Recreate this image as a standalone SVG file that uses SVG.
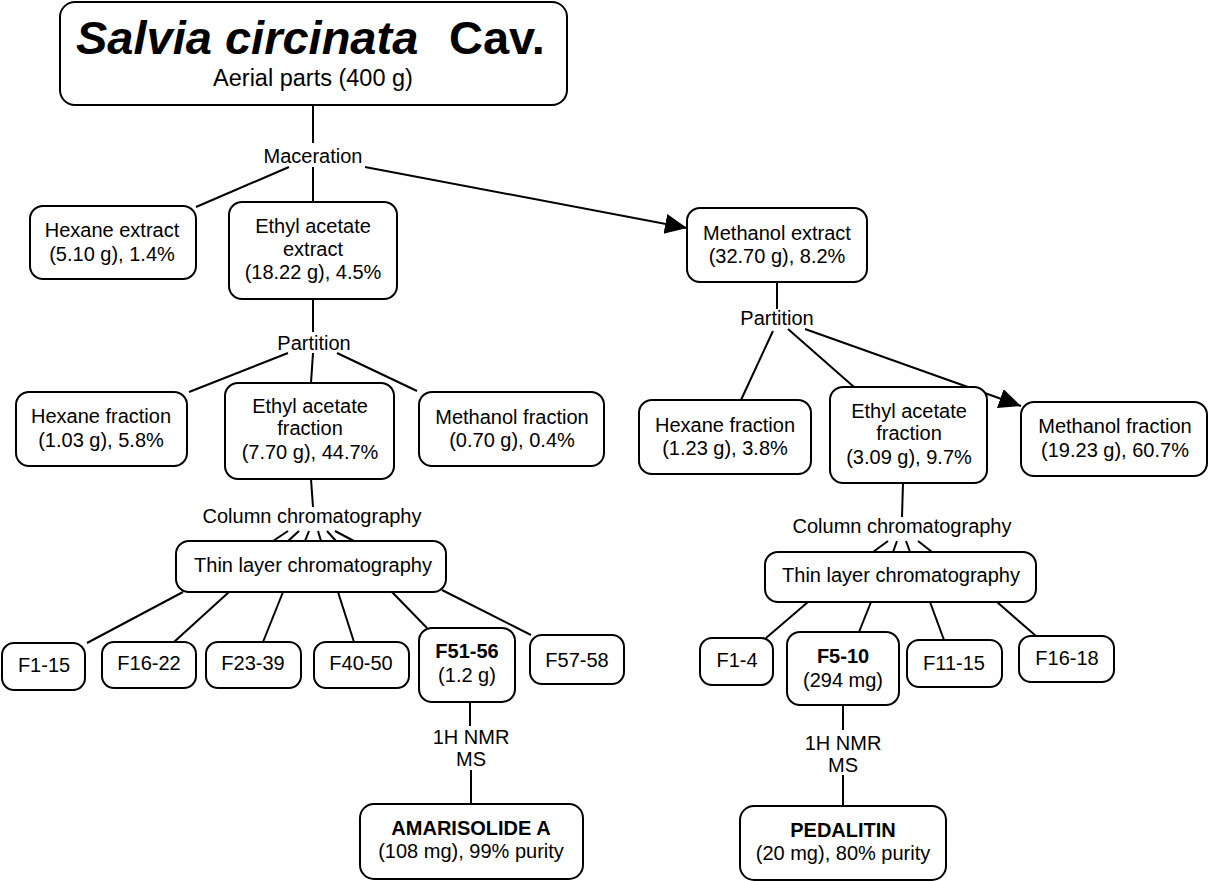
<svg xmlns="http://www.w3.org/2000/svg" width="1211" height="881" viewBox="0 0 1211 881">
<defs>
<style>
.n{fill:#fff;stroke:#000;stroke-width:2}
.t{font-family:"Liberation Sans",Arial,sans-serif;font-size:20px;fill:#000;text-anchor:middle}
.b{font-weight:bold}
.c line{stroke:#000;stroke-width:2}
</style>
<marker id="ah" markerUnits="userSpaceOnUse" markerWidth="24" markerHeight="22" refX="22" refY="10" orient="auto" viewBox="0 0 24 22">
<path d="M0,0 L22,10 L0,20 z" fill="#000"/>
</marker>
</defs>
<rect width="1211" height="881" fill="#fff"/>
<g id="connectors" class="c">
<line x1="313" y1="105" x2="313" y2="143"/>
<line x1="313" y1="167" x2="313" y2="202"/>
<line x1="289" y1="167" x2="196" y2="207"/>
<line x1="365" y1="167" x2="687" y2="228" marker-end="url(#ah)"/>
<line x1="313" y1="299" x2="313" y2="332"/>
<line x1="288" y1="353" x2="189" y2="392"/>
<line x1="313" y1="353" x2="311" y2="383"/>
<line x1="337" y1="353" x2="417" y2="391"/>
<line x1="311" y1="479" x2="313" y2="507"/>
<line x1="288" y1="531" x2="273" y2="541"/>
<line x1="299" y1="531" x2="288" y2="541"/>
<line x1="309" y1="531" x2="305" y2="541"/>
<line x1="318" y1="531" x2="321" y2="541"/>
<line x1="327" y1="531" x2="336" y2="541"/>
<line x1="335" y1="531" x2="354" y2="541"/>
<line x1="183" y1="592" x2="87" y2="643"/>
<line x1="229" y1="592" x2="174" y2="642"/>
<line x1="283" y1="592" x2="263" y2="642"/>
<line x1="338" y1="592" x2="354" y2="642"/>
<line x1="392" y1="592" x2="427" y2="628"/>
<line x1="442" y1="590" x2="531" y2="635"/>
<line x1="470" y1="702" x2="470" y2="726"/>
<line x1="471" y1="770" x2="471" y2="804"/>
<line x1="777" y1="282" x2="777" y2="309"/>
<line x1="773" y1="331" x2="741" y2="400"/>
<line x1="788" y1="329" x2="854" y2="387"/>
<line x1="805" y1="329" x2="1021" y2="406" marker-end="url(#ah)"/>
<line x1="903" y1="483" x2="902" y2="517"/>
<line x1="888" y1="541" x2="873" y2="552"/>
<line x1="897" y1="541" x2="893" y2="552"/>
<line x1="906" y1="541" x2="910" y2="552"/>
<line x1="918" y1="541" x2="932" y2="552"/>
<line x1="808" y1="602" x2="766" y2="638"/>
<line x1="871" y1="602" x2="859" y2="632"/>
<line x1="930" y1="602" x2="944" y2="640"/>
<line x1="997" y1="602" x2="1036" y2="636"/>
<line x1="843" y1="705" x2="843" y2="730"/>
<line x1="843" y1="775" x2="843" y2="806"/>
</g>
<g id="plant">
<rect class="n" x="60" y="2" width="507" height="103" rx="15"/>
<text class="t b" y="54" style="font-size:47px;text-anchor:start"><tspan x="76" font-style="italic">Salvia circinata</tspan><tspan x="449">Cav.</tspan></text>
<text class="t" x="313" y="86" style="font-size:23.5px">Aerial parts (400 g)</text>
</g>
<g id="maceration"><text class="t" x="313" y="163">Maceration</text></g>
<g id="hexane-extract">
<rect class="n" x="30" y="206" width="166" height="73" rx="13"/>
<text class="t" x="112" y="237">Hexane extract</text>
<text class="t" x="112" y="261">(5.10 g), 1.4%</text>
</g>
<g id="ethyl-acetate-extract">
<rect class="n" x="229" y="202" width="168" height="97" rx="13"/>
<text class="t" x="313" y="233">Ethyl acetate</text>
<text class="t" x="313" y="256">extract</text>
<text class="t" x="313" y="279">(18.22 g), 4.5%</text>
</g>
<g id="methanol-extract">
<rect class="n" x="687" y="208" width="180" height="74" rx="13"/>
<text class="t" x="777" y="240">Methanol extract</text>
<text class="t" x="777" y="263">(32.70 g), 8.2%</text>
</g>
<g id="partition-left"><text class="t" x="314" y="350">Partition</text></g>
<g id="hexane-fraction-left">
<rect class="n" x="16" y="392" width="171" height="74" rx="13"/>
<text class="t" x="101" y="423">Hexane fraction</text>
<text class="t" x="101" y="447">(1.03 g), 5.8%</text>
</g>
<g id="ethyl-acetate-fraction-left">
<rect class="n" x="225" y="383" width="169" height="96" rx="13"/>
<text class="t" x="310" y="413">Ethyl acetate</text>
<text class="t" x="310" y="435">fraction</text>
<text class="t" x="310" y="459">(7.70 g), 44.7%</text>
</g>
<g id="methanol-fraction-left">
<rect class="n" x="419" y="392" width="185" height="74" rx="13"/>
<text class="t" x="512" y="424">Methanol fraction</text>
<text class="t" x="512" y="447">(0.70 g), 0.4%</text>
</g>
<g id="column-left"><text class="t" x="312" y="523">Column chromatography</text></g>
<g id="tlc-left">
<rect class="n" x="176" y="541" width="270" height="51" rx="13"/>
<text class="t" x="313" y="572">Thin layer chromatography</text>
</g>
<g id="f1-15">
<rect class="n" x="2" y="643" width="83" height="47" rx="12"/>
<text class="t" x="44" y="672">F1-15</text>
</g>
<g id="f16-22">
<rect class="n" x="102" y="642" width="94" height="46" rx="12"/>
<text class="t" x="149" y="670">F16-22</text>
</g>
<g id="f23-39">
<rect class="n" x="206" y="642" width="95" height="46" rx="12"/>
<text class="t" x="253" y="670">F23-39</text>
</g>
<g id="f40-50">
<rect class="n" x="314" y="642" width="95" height="46" rx="12"/>
<text class="t" x="361" y="670">F40-50</text>
</g>
<g id="f51-56">
<rect class="n" x="419" y="628" width="96" height="74" rx="13"/>
<text class="t b" x="467" y="658">F51-56</text>
<text class="t" x="467" y="682">(1.2 g)</text>
</g>
<g id="f57-58">
<rect class="n" x="530" y="635" width="94" height="49" rx="12"/>
<text class="t" x="577" y="667">F57-58</text>
</g>
<g id="nmr-left">
<text class="t" x="471" y="744">1H NMR</text>
<text class="t" x="471" y="766">MS</text>
</g>
<g id="amarisolide">
<rect class="n" x="360" y="804" width="223" height="75" rx="14"/>
<text class="t b" x="471" y="835">AMARISOLIDE A</text>
<text class="t" x="471" y="858">(108 mg), 99% purity</text>
</g>
<g id="partition-right"><text class="t" x="777" y="325">Partition</text></g>
<g id="hexane-fraction-right">
<rect class="n" x="639" y="400" width="172" height="74" rx="13"/>
<text class="t" x="725" y="432">Hexane fraction</text>
<text class="t" x="725" y="455">(1.23 g), 3.8%</text>
</g>
<g id="ethyl-acetate-fraction-right">
<rect class="n" x="830" y="387" width="157" height="96" rx="13"/>
<text class="t" x="909" y="418">Ethyl acetate</text>
<text class="t" x="909" y="440">fraction</text>
<text class="t" x="909" y="464">(3.09 g), 9.7%</text>
</g>
<g id="methanol-fraction-right">
<rect class="n" x="1021" y="402" width="186" height="74" rx="13"/>
<text class="t" x="1115" y="433">Methanol fraction</text>
<text class="t" x="1115" y="457">(19.23 g), 60.7%</text>
</g>
<g id="column-right"><text class="t" x="902" y="533">Column chromatography</text></g>
<g id="tlc-right">
<rect class="n" x="765" y="552" width="271" height="50" rx="13"/>
<text class="t" x="901" y="582">Thin layer chromatography</text>
</g>
<g id="f1-4">
<rect class="n" x="700" y="638" width="73" height="47" rx="12"/>
<text class="t" x="737" y="667">F1-4</text>
</g>
<g id="f5-10">
<rect class="n" x="787" y="632" width="112" height="73" rx="13"/>
<text class="t b" x="843" y="663">F5-10</text>
<text class="t" x="843" y="687">(294 mg)</text>
</g>
<g id="f11-15">
<rect class="n" x="907" y="640" width="95" height="47" rx="12"/>
<text class="t" x="954" y="670">F11-15</text>
</g>
<g id="f16-18">
<rect class="n" x="1019" y="636" width="95" height="46" rx="12"/>
<text class="t" x="1067" y="665">F16-18</text>
</g>
<g id="nmr-right">
<text class="t" x="843" y="750">1H NMR</text>
<text class="t" x="843" y="772">MS</text>
</g>
<g id="pedalitin">
<rect class="n" x="740" y="806" width="206" height="74" rx="14"/>
<text class="t b" x="843" y="837">PEDALITIN</text>
<text class="t" x="843" y="860">(20 mg), 80% purity</text>
</g>
</svg>
